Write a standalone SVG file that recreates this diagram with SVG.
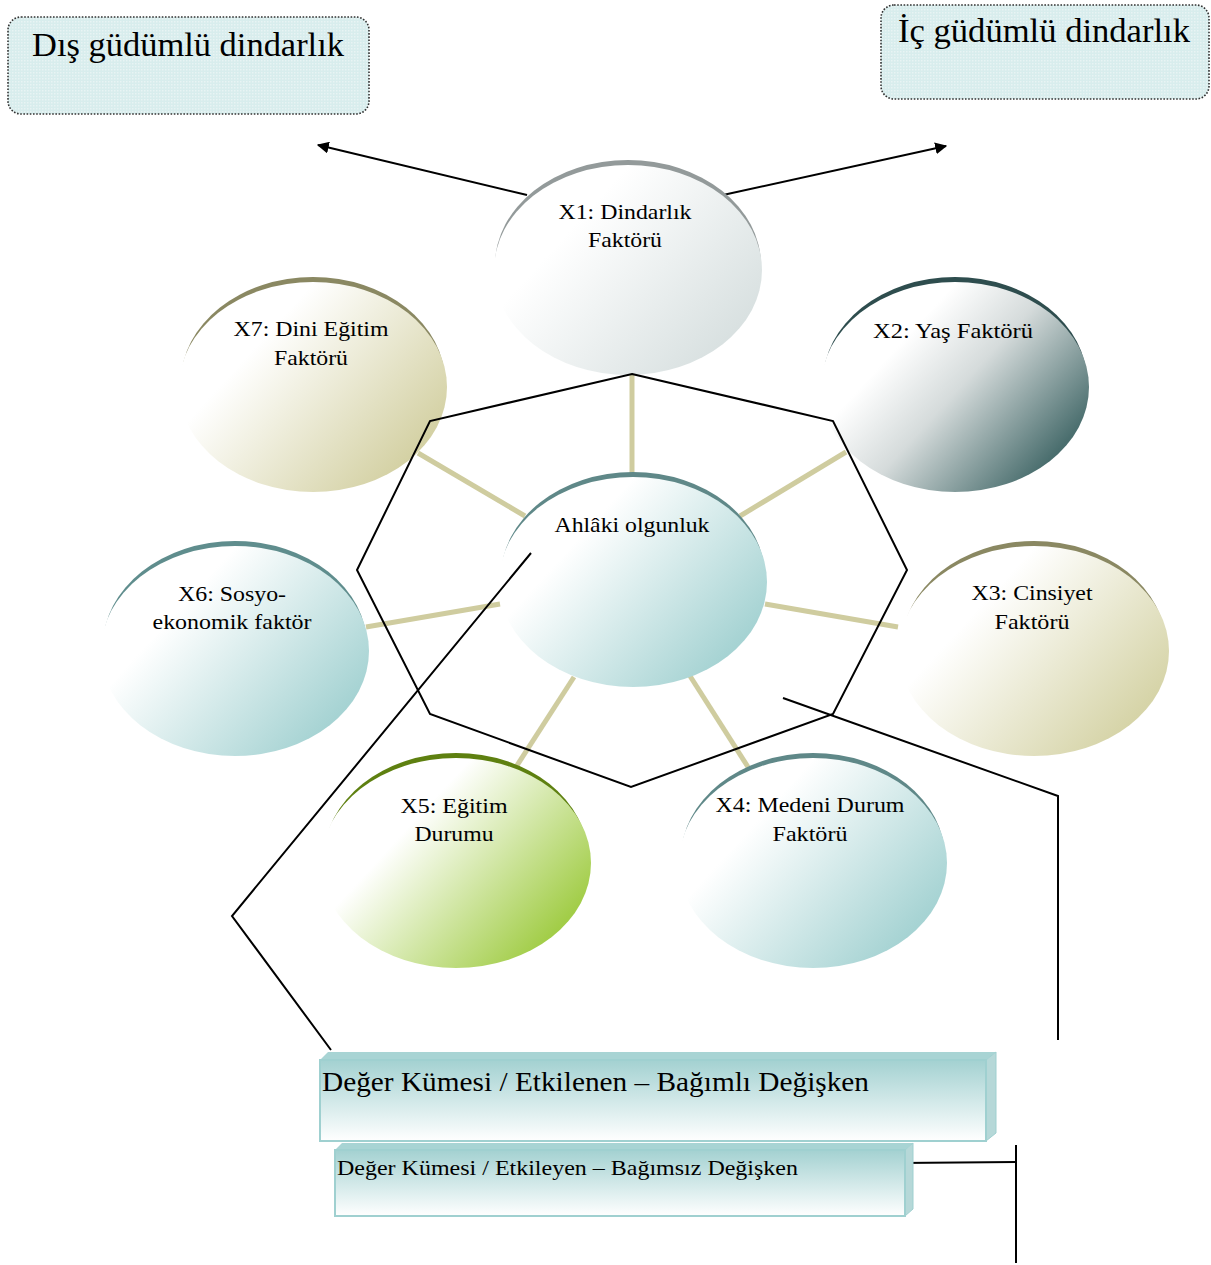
<svg xmlns="http://www.w3.org/2000/svg" width="1211" height="1265" viewBox="0 0 1211 1265">
<defs>
<style>
text{font-family:"Liberation Serif","Times New Roman",serif;fill:#000}
.lbl{font-size:22px;text-anchor:middle}
.big{font-size:34.5px}
.spoke{stroke:#cfcc9f;stroke-width:5;fill:none}
.blk{stroke:#000;stroke-width:2;fill:none}
.tbox{fill:url(#dots);stroke:#333;stroke-width:1.6;stroke-dasharray:1.6 1.6}
.bface{fill:url(#gBox);stroke:#9fd0d0;stroke-width:2}
.btop{fill:#a8d4d4}
.bside{fill:#b6d8d8;stroke:#9fd0d0;stroke-width:1}
</style>
<pattern id="dots" width="3" height="3" patternUnits="userSpaceOnUse">
<rect width="3" height="3" fill="#d8eded"/>
<rect width="1.5" height="1.5" fill="#e8f4f4"/>
</pattern>
<marker id="ah" viewBox="0 0 10 10" refX="9" refY="5" markerWidth="12" markerHeight="12" markerUnits="userSpaceOnUse" orient="auto">
<path d="M0,0 L10,5 L0,10 z" fill="#000"/>
</marker>
<linearGradient id="gBox" x1="0" y1="0" x2="0" y2="1">
<stop offset="0" stop-color="#a3d1d1"/><stop offset="1" stop-color="#ffffff"/>
</linearGradient>
<linearGradient id="g1" x1="0.15" y1="0.35" x2="0.85" y2="0.85"><stop offset="0.1" stop-color="#fff"/><stop offset="1" stop-color="#d9e1e1"/></linearGradient>
<linearGradient id="g7" x1="0.15" y1="0.35" x2="0.85" y2="0.85"><stop offset="0.1" stop-color="#fff"/><stop offset="1" stop-color="#d4d1a4"/></linearGradient>
<linearGradient id="g2" x1="0.15" y1="0.35" x2="0.85" y2="0.85"><stop offset="0.1" stop-color="#fff"/><stop offset="0.45" stop-color="#d5dbdb"/><stop offset="1" stop-color="#4a6e6e"/></linearGradient>
<linearGradient id="gT" x1="0.15" y1="0.35" x2="0.85" y2="0.85"><stop offset="0.1" stop-color="#fff"/><stop offset="1" stop-color="#a6d3d3"/></linearGradient>
<linearGradient id="g3" x1="0.15" y1="0.35" x2="0.85" y2="0.85"><stop offset="0.1" stop-color="#fff"/><stop offset="1" stop-color="#d6d4a8"/></linearGradient>
<linearGradient id="g5" x1="0.15" y1="0.35" x2="0.85" y2="0.85"><stop offset="0.15" stop-color="#fff"/><stop offset="1" stop-color="#a2cd48"/></linearGradient>
</defs>

<g id="connectors">
<line class="spoke" x1="632" y1="372" x2="632" y2="474"/>
<line class="spoke" x1="418" y1="453" x2="525" y2="516"/>
<line class="spoke" x1="846" y1="452" x2="740" y2="516"/>
<line class="spoke" x1="366" y1="627" x2="500" y2="604"/>
<line class="spoke" x1="765" y1="604" x2="898" y2="627"/>
<line class="spoke" x1="574" y1="677" x2="516" y2="767"/>
<line class="spoke" x1="690" y1="676" x2="748" y2="767"/>
<line class="blk" x1="527" y1="195" x2="318" y2="145" marker-end="url(#ah)"/>
<line class="blk" x1="723" y1="195" x2="946" y2="146" marker-end="url(#ah)"/>
</g>

<g id="node-x1">
<ellipse cx="628" cy="265" rx="133" ry="105" fill="#939a9a"/>
<ellipse cx="628" cy="270" rx="134" ry="105" fill="url(#g1)"/>
<text class="lbl" x="625" y="219" textLength="133" lengthAdjust="spacingAndGlyphs">X1: Dindarlık</text>
<text class="lbl" x="625" y="247" textLength="74" lengthAdjust="spacingAndGlyphs">Faktörü</text>
</g>
<g id="node-x7">
<ellipse cx="313" cy="382" rx="132" ry="105" fill="#8a8862"/>
<ellipse cx="313" cy="387" rx="134" ry="105" fill="url(#g7)"/>
<text class="lbl" x="311" y="336" textLength="155" lengthAdjust="spacingAndGlyphs">X7: Dini Eğitim</text>
<text class="lbl" x="311" y="365" textLength="74" lengthAdjust="spacingAndGlyphs">Faktörü</text>
</g>
<g id="node-x2">
<ellipse cx="955" cy="382" rx="132" ry="105" fill="#2e4d4e"/>
<ellipse cx="955" cy="387" rx="134" ry="105" fill="url(#g2)"/>
<text class="lbl" x="953" y="338" textLength="160" lengthAdjust="spacingAndGlyphs">X2: Yaş Faktörü</text>
</g>
<g id="node-x6">
<ellipse cx="235" cy="646" rx="132" ry="105" fill="#5f8d8d"/>
<ellipse cx="235" cy="651" rx="134" ry="105" fill="url(#gT)"/>
<text class="lbl" x="232" y="601" textLength="108" lengthAdjust="spacingAndGlyphs">X6: Sosyo-</text>
<text class="lbl" x="232" y="629" textLength="159" lengthAdjust="spacingAndGlyphs">ekonomik faktör</text>
</g>
<g id="node-x3">
<ellipse cx="1034" cy="646" rx="132" ry="105" fill="#8a8862"/>
<ellipse cx="1034" cy="651" rx="135" ry="105" fill="url(#g3)"/>
<text class="lbl" x="1032" y="600" textLength="121" lengthAdjust="spacingAndGlyphs">X3: Cinsiyet</text>
<text class="lbl" x="1032" y="629" textLength="75" lengthAdjust="spacingAndGlyphs">Faktörü</text>
</g>
<g id="node-x5">
<ellipse cx="456" cy="858" rx="132" ry="105" fill="#5e8010"/>
<ellipse cx="456" cy="863" rx="135" ry="105" fill="url(#g5)"/>
<text class="lbl" x="454" y="813" textLength="107" lengthAdjust="spacingAndGlyphs">X5: Eğitim</text>
<text class="lbl" x="454" y="841" textLength="79" lengthAdjust="spacingAndGlyphs">Durumu</text>
</g>
<g id="node-x4">
<ellipse cx="813" cy="858" rx="132" ry="105" fill="#5f8888"/>
<ellipse cx="813" cy="863" rx="134" ry="105" fill="url(#gT)"/>
<text class="lbl" x="810" y="812" textLength="189" lengthAdjust="spacingAndGlyphs">X4: Medeni Durum</text>
<text class="lbl" x="810" y="841" textLength="75" lengthAdjust="spacingAndGlyphs">Faktörü</text>
</g>
<g id="node-center">
<ellipse cx="633" cy="577" rx="132" ry="105" fill="#5f8888"/>
<ellipse cx="633" cy="582" rx="134" ry="105" fill="url(#gT)"/>
<text class="lbl" x="632" y="532" textLength="155" lengthAdjust="spacingAndGlyphs">Ahlâki olgunluk</text>
</g>

<g id="frame-lines">
<polygon class="blk" points="632,374 833,421 907,570 833,714 631,787 430,714 357,570 430,421"/>
<polyline class="blk" points="531,553 232,916 331,1050"/>
<polyline class="blk" points="783,698 1058,796 1058,1040"/>
<line class="blk" x1="900" y1="1163" x2="1016" y2="1162"/>
<line class="blk" x1="1016" y1="1145" x2="1016" y2="1263"/>
</g>

<g id="node-dis">
<rect class="tbox" x="8" y="17" width="361" height="97" rx="13"/>
<text class="big" x="32" y="56" textLength="312" lengthAdjust="spacingAndGlyphs">Dış güdümlü dindarlık</text>
</g>
<g id="node-ic">
<rect class="tbox" x="881" y="5" width="328" height="94" rx="13"/>
<text class="big" x="898" y="42" textLength="292" lengthAdjust="spacingAndGlyphs">İç güdümlü dindarlık</text>
</g>

<g id="node-bagimli">
<polygon class="btop" points="320,1060 328,1052 996,1052 986,1060"/>
<polygon class="bside" points="986,1060 996,1052 996,1133 986,1141"/>
<rect class="bface" x="320" y="1060" width="666" height="81"/>
<text x="322" y="1091" style="font-size:27px" textLength="547" lengthAdjust="spacingAndGlyphs">Değer Kümesi / Etkilenen – Bağımlı Değişken</text>
</g>
<g id="node-bagimsiz">
<polygon class="btop" points="335,1150 342,1143 913,1143 905,1150"/>
<polygon class="bside" points="905,1150 913,1143 913,1209 905,1216"/>
<rect class="bface" x="335" y="1150" width="570" height="66"/>
<text x="337" y="1175" style="font-size:22px" textLength="461" lengthAdjust="spacingAndGlyphs">Değer Kümesi / Etkileyen – Bağımsız Değişken</text>
</g>
</svg>
